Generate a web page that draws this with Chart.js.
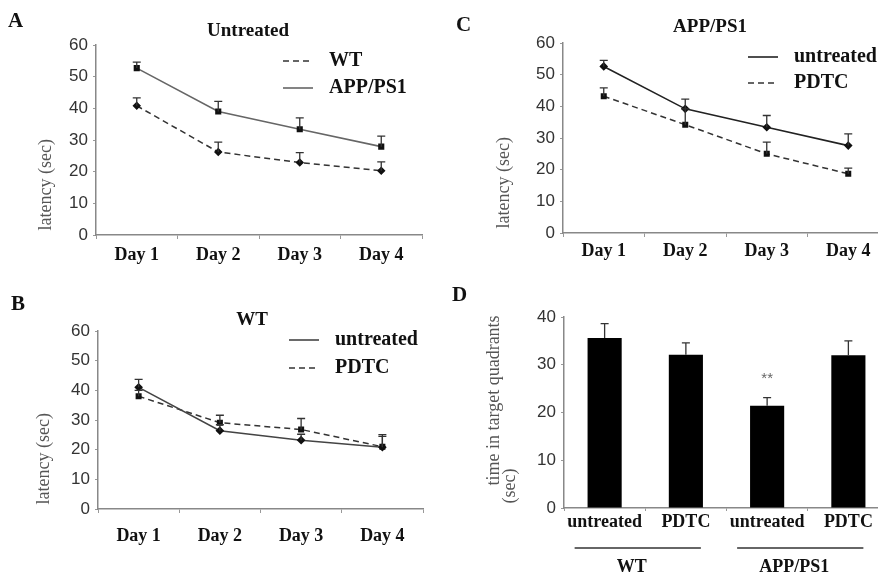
<!DOCTYPE html>
<html lang="en">
<head>
<meta charset="UTF-8">
<title>Escape latency and probe trial - WT and APP/PS1 mice with PDTC</title>
<script src="https://cdn.jsdelivr.net/npm/chart.js@4.4.0/dist/chart.umd.min.js"></script>
<style>
body { margin: 0; width: 878px; height: 575px; overflow: hidden; background: #fff; position: relative; }
canvas { position: absolute; }
.letter { position: absolute; font-family: "Liberation Serif", serif; font-weight: bold; font-size: 21px; color: #111; line-height: 21px; }
</style>
</head>
<body>

<canvas id="chartA" width="440" height="290" style="left:0px; top:0px"></canvas>
<canvas id="chartC" width="460" height="290" style="left:440px; top:0px"></canvas>
<canvas id="chartB" width="440" height="285" style="left:0px; top:290px"></canvas>
<canvas id="chartD" width="460" height="285" style="left:440px; top:290px"></canvas>

<div class="letter" style="left:8px; top:10px">A</div>
<div class="letter" style="left:456px; top:14px">C</div>
<div class="letter" style="left:11px; top:293px">B</div>
<div class="letter" style="left:452px; top:284px">D</div>

<script>
var days = ['Day 1', 'Day 2', 'Day 3', 'Day 4'];

// A - untreated mice
var untreatedWT = [40.8, 26.2, 22.9, 20.3];
var untreatedWTSem = [2.5, 3.1, 3.1, 2.8];
var untreatedAPP = [52.7, 39.0, 33.4, 27.9];
var untreatedAPPSem = [1.9, 3.2, 3.6, 3.3];

// B - WT mice
var wtUntreated = [41.0, 26.4, 23.2, 20.8];
var wtUntreatedSem = [2.7, 2.0, 2.0, 3.7];
var wtPDTC = [38.0, 29.1, 26.8, 21.0];
var wtPDTCSem = [2.0, 2.5, 3.7, 4.1];

// C - APP/PS1 mice
var appUntreated = [52.6, 39.2, 33.4, 27.6];
var appUntreatedSem = [1.9, 3.1, 3.7, 3.7];
var appPDTC = [43.2, 34.2, 25.0, 18.7];
var appPDTCSem = [2.6, 5.0, 3.7, 1.8];

// D - probe trial
var groups = ['untreated', 'PDTC', 'untreated', 'PDTC'];
var probeTime = [35.6, 32.1, 21.4, 32.0];
var probeSem = [3.0, 2.5, 1.7, 3.0];
var probeMarks = ['', '', '**', ''];
var strains = ['WT', 'APP/PS1'];
var strainRanges = [[0, 1], [2, 3]];

var latencyMax = 60, latencyStep = 10;
var probeMax = 40, probeStep = 10;

var serif = '"Liberation Serif", "Times New Roman", serif';
var sans = '"Liberation Sans", Arial, sans-serif';

// error bars, legend, titles, group labels
var panelDecor = {
  id: 'panelDecor',
  afterDatasetsDraw: function(chart) {
    var ctx = chart.ctx, xs = chart.scales.x, ys = chart.scales.y;
    chart.data.datasets.forEach(function(ds) {
      if (!ds.sem) return;
      ctx.save();
      ctx.strokeStyle = '#333';
      ctx.lineWidth = 1.3;
      ds.data.forEach(function(v, i) {
        var px = xs.getPixelForValue(i);
        var y0 = ys.getPixelForValue(v), y1 = ys.getPixelForValue(v + ds.sem[i]);
        ctx.beginPath();
        ctx.moveTo(px, y0); ctx.lineTo(px, y1);
        ctx.moveTo(px - 4, y1); ctx.lineTo(px + 4, y1);
        ctx.stroke();
      });
      ctx.restore();
    });
  },
  afterDraw: function(chart, args, opts) {
    var ctx = chart.ctx, xs = chart.scales.x, ys = chart.scales.y;
    ctx.save();
    ctx.textBaseline = 'middle';
    if (opts.title) {
      ctx.fillStyle = '#111';
      ctx.font = 'bold 19px ' + serif;
      ctx.textAlign = 'center';
      ctx.fillText(opts.title.text, opts.title.x, opts.title.y);
    }
    if (opts.legend) {
      var L = opts.legend;
      chart.data.datasets.forEach(function(ds, i) {
        var yy = L.y + i * L.gap;
        ctx.strokeStyle = ds.borderColor;
        ctx.lineWidth = ds.borderWidth;
        ctx.setLineDash(ds.borderDash || []);
        ctx.beginPath(); ctx.moveTo(L.x, yy); ctx.lineTo(L.x + 30, yy); ctx.stroke();
        ctx.setLineDash([]);
        ctx.fillStyle = '#111';
        ctx.font = 'bold 20px ' + serif;
        ctx.textAlign = 'left';
        ctx.fillText(ds.label, L.x + 46, yy);
      });
    }
    if (opts.marks) {
      var ds = chart.data.datasets[0];
      ctx.fillStyle = '#666';
      ctx.font = '15px ' + sans;
      ctx.textAlign = 'center';
      opts.marks.forEach(function(m, i) {
        if (!m) return;
        ctx.fillText(m, xs.getPixelForValue(i), ys.getPixelForValue(ds.data[i] + ds.sem[i]) - 19);
      });
    }
    if (opts.groups) {
      opts.groups.forEach(function(g, i) {
        var r = opts.ranges[i];
        var x0 = xs.getPixelForValue(r[0]) - 30, x1 = xs.getPixelForValue(r[1]) + 15;
        ctx.strokeStyle = '#333';
        ctx.lineWidth = 1.5;
        ctx.beginPath(); ctx.moveTo(x0, 258); ctx.lineTo(x1, 258); ctx.stroke();
        ctx.fillStyle = '#111';
        ctx.font = 'bold 18px ' + serif;
        ctx.textAlign = 'center';
        ctx.fillText(g, (x0 + x1) / 2 - 6, 277);
      });
    }
    ctx.restore();
  }
};
Chart.register(panelDecor);

function axisX(box) {
  return {
    offset: true,
    grid: { offset: true, drawOnChartArea: false, tickLength: box.tick, color: '#999' },
    border: { color: '#888', width: 1.5 },
    ticks: { font: { family: serif, size: 18, weight: 'bold' }, color: '#111', padding: box.xPad, maxRotation: 0, autoSkip: false },
    afterFit: function(s) { s.height = box.xh; }
  };
}

function axisY(box, max, step, title, align) {
  return {
    min: 0, max: max,
    ticks: { stepSize: step, font: { family: sans, size: 17 }, color: '#333', padding: 5 },
    grid: { drawOnChartArea: false, tickLength: 3, color: '#999' },
    border: { color: '#888', width: 1.5 },
    title: { display: true, text: title, align: align, color: '#555',
             font: { family: serif, size: 18, lineHeight: 0.85 }, padding: { top: box.titlePad, bottom: 0 } },
    afterFit: function(s) { s.width = box.yw; }
  };
}

function latencyChart(id, datasets, box, decor) {
  return new Chart(document.getElementById(id), {
    type: 'line',
    data: { labels: days, datasets: datasets },
    options: {
      responsive: false, animation: false, devicePixelRatio: 1,
      layout: { padding: { left: 0, top: box.top, right: box.right, bottom: box.bottom } },
      plugins: { legend: { display: false }, tooltip: { enabled: false }, panelDecor: decor },
      scales: {
        x: axisX(box),
        y: axisY(box, latencyMax, latencyStep, ' latency (sec)', 'start')
      }
    }
  });
}

function dashed(label, data, sem, style) {
  return { label: label, data: data, sem: sem, borderColor: '#333', borderWidth: 1.5, borderDash: [6, 4],
           pointStyle: style, pointRadius: 3.2, pointBackgroundColor: '#111', pointBorderColor: '#111', tension: 0 };
}
function solid(label, data, sem, style, color) {
  return { label: label, data: data, sem: sem, borderColor: color, borderWidth: 1.6,
           pointStyle: style, pointRadius: 3.2, pointBackgroundColor: '#111', pointBorderColor: '#111', tension: 0 };
}

latencyChart('chartA', [
  dashed('WT', untreatedWT, untreatedWTSem, 'rectRot'),
  solid('APP/PS1', untreatedAPP, untreatedAPPSem, 'rect', '#666')
], { top: 45, right: 18, bottom: 15, xh: 40, yw: 96, tick: 4, xPad: 6, titlePad: 39 },
{ title: { text: 'Untreated', x: 248, y: 31 }, legend: { x: 283, y: 61, gap: 27 } });

latencyChart('chartC', [
  solid('untreated', appUntreated, appUntreatedSem, 'rectRot', '#222'),
  dashed('PDTC', appPDTC, appPDTCSem, 'rect')
], { top: 43, right: 11, bottom: 17, xh: 40, yw: 123, tick: 4, xPad: 4, titlePad: 57 },
{ title: { text: 'APP/PS1', x: 270, y: 27 }, legend: { x: 308, y: 57, gap: 26 } });

latencyChart('chartB', [
  solid('untreated', wtUntreated, wtUntreatedSem, 'rectRot', '#444'),
  dashed('PDTC', wtPDTC, wtPDTCSem, 'rect')
], { top: 41, right: 17, bottom: 26, xh: 40, yw: 98, tick: 4, xPad: 13, titlePad: 37 },
{ title: { text: 'WT', x: 252, y: 30 }, legend: { x: 289, y: 50, gap: 28 } });

var boxD = { top: 27, right: 11, bottom: 25, xh: 42, yw: 124, tick: 3, xPad: 1, titlePad: 47 };
new Chart(document.getElementById('chartD'), {
  type: 'bar',
  data: {
    labels: groups,
    datasets: [{ label: 'time in target quadrants', data: probeTime, sem: probeSem,
                 backgroundColor: '#000', borderWidth: 0, barPercentage: 0.42, categoryPercentage: 1 }]
  },
  options: {
    responsive: false, animation: false, devicePixelRatio: 1,
    layout: { padding: { left: 0, top: boxD.top, right: boxD.right, bottom: boxD.bottom } },
    plugins: { legend: { display: false }, tooltip: { enabled: false },
               panelDecor: { marks: probeMarks, groups: strains, ranges: strainRanges } },
    scales: {
      x: axisX(boxD),
      y: axisY(boxD, probeMax, probeStep, ['     time in target quadrants', ' (sec)'], 'start')
    }
  }
});
</script>
</body>
</html>
